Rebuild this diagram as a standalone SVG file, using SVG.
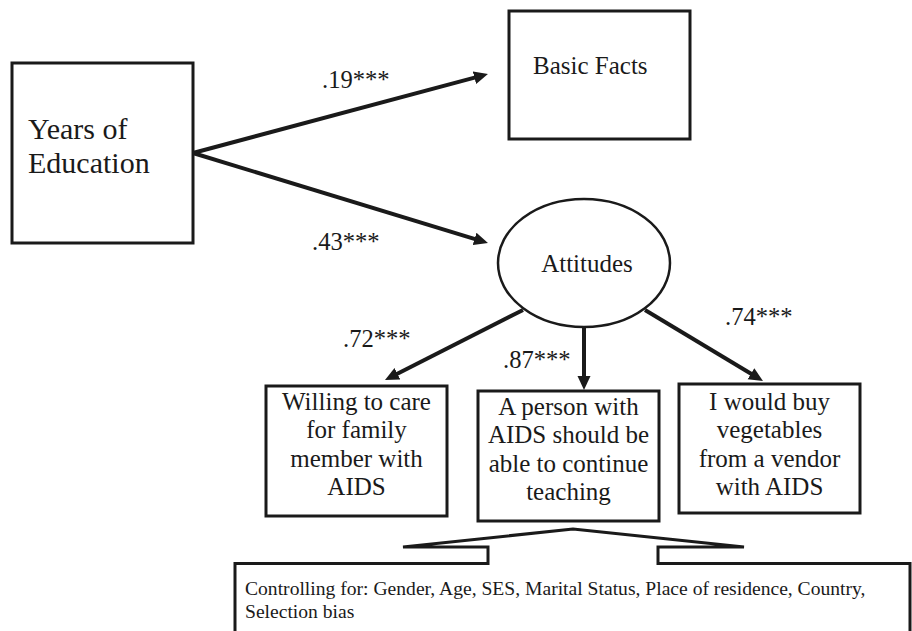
<svg xmlns="http://www.w3.org/2000/svg" width="912" height="631" viewBox="0 0 912 631">
<style>
  .box { fill: #fff; stroke: #1a1a1a; stroke-width: 3; }
  .ell { fill: #fff; stroke: #1a1a1a; stroke-width: 2.5; }
  text { font-family: "Liberation Serif", "Times New Roman", serif; fill: #1a1a1a; }
  .bt { font-size: 25px; text-anchor: middle; }
  .lbl { font-size: 24.6px; }
  .conn { stroke: #1a1a1a; stroke-width: 4; fill: none; marker-end: url(#ah); }
  .call { fill: #fff; stroke: #1a1a1a; stroke-width: 3; }
</style>
<defs>
  <marker id="ah" markerUnits="userSpaceOnUse" markerWidth="16" markerHeight="14" refX="4" refY="6.5" orient="auto">
    <path d="M0,0 L14,6.5 L0,13 z" fill="#1a1a1a"/>
  </marker>
</defs>
<rect width="912" height="631" fill="#fff"/>

<g id="years-of-education">
  <rect class="box" x="12" y="63" width="181" height="180"/>
  <text font-size="30" x="28" y="139">Years of</text>
  <text font-size="30" x="28" y="173">Education</text>
</g>

<g id="basic-facts">
  <rect class="box" x="509" y="11" width="181" height="128"/>
  <text font-size="25" x="533" y="74">Basic Facts</text>
</g>

<g id="attitudes">
  <ellipse class="ell" cx="584" cy="263" rx="86" ry="64"/>
  <text class="bt" x="587" y="272">Attitudes</text>
</g>

<g id="willing-to-care">
  <rect class="box" x="266" y="386" width="181" height="130"/>
  <text class="bt" x="356.5" y="410">Willing to care</text>
  <text class="bt" x="356.5" y="438">for family</text>
  <text class="bt" x="356.5" y="467">member with</text>
  <text class="bt" x="356.5" y="495">AIDS</text>
</g>

<g id="continue-teaching">
  <rect class="box" x="478" y="391" width="181" height="130"/>
  <text class="bt" x="568.5" y="415">A person with</text>
  <text class="bt" x="568.5" y="443">AIDS should be</text>
  <text class="bt" x="568.5" y="472">able to continue</text>
  <text class="bt" x="568.5" y="500">teaching</text>
</g>

<g id="buy-vegetables">
  <rect class="box" x="679" y="384" width="181" height="129"/>
  <text class="bt" x="769.5" y="410">I would buy</text>
  <text class="bt" x="769.5" y="438">vegetables</text>
  <text class="bt" x="769.5" y="467">from a vendor</text>
  <text class="bt" x="769.5" y="495">with AIDS</text>
</g>

<g id="connectors">
  <line class="conn" x1="193" y1="153" x2="478.3" y2="76.6"/>
  <line class="conn" x1="193" y1="153" x2="478.4" y2="240.1"/>
  <line class="conn" x1="523" y1="310" x2="393.9" y2="375.5"/>
  <line class="conn" x1="584" y1="327" x2="584" y2="380"/>
  <line class="conn" x1="645" y1="310" x2="754.4" y2="375.8"/>
  <text class="lbl" x="322" y="88">.19***</text>
  <text class="lbl" x="312" y="250">.43***</text>
  <text class="lbl" x="343" y="347">.72***</text>
  <text class="lbl" x="503" y="368">.87***</text>
  <text class="lbl" x="725" y="325">.74***</text>
</g>

<g id="controls-callout">
  <path class="call" d="M235,645 L235,563.5 L488,563.5 L488,547 L403,547 L573,529 L744,547 L658,547 L658,563.5 L910,563.5 L910,645"/>
  <text font-size="19.6" x="245" y="595">Controlling for: Gender, Age, SES, Marital Status, Place of residence, Country,</text>
  <text font-size="19.6" x="245" y="618">Selection bias</text>
</g>
</svg>
